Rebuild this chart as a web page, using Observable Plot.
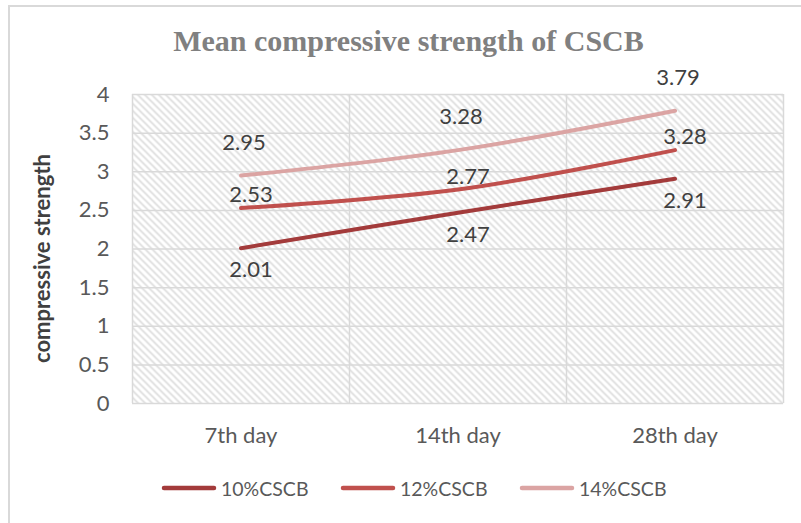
<!DOCTYPE html>
<html>
<head>
<meta charset="utf-8">
<script src="https://cdn.jsdelivr.net/npm/d3@7"></script>
<script src="https://cdn.jsdelivr.net/npm/@observablehq/plot@0.6"></script>
<style>
  html, body { margin: 0; padding: 0; background: #fff; }
  #wrap { position: relative; width: 801px; height: 523px; overflow: hidden; font-family: Lato, "Liberation Sans", sans-serif; }
  #border { position: absolute; left: 8px; top: 5px; width: 820px; height: 540px; border: 2px solid #d9d9d9; box-sizing: border-box; }
  #title { position: relative; height: 62px; box-sizing: border-box; padding-top: 26px; padding-left: 16px; text-align: center;
           font-family: "Liberation Serif", serif; font-weight: bold; font-size: 30px; line-height: 30px; color: #808080; }
  #chart { position: relative; height: 400px; }
  #legend { position: relative; height: 52px; display: flex; align-items: center; padding-left: 160px; }
  .item { display: flex; align-items: center; width: 179px; font-size: 19.5px; color: #595959; }
  .item svg { margin-right: 3px; flex: none; }
</style>
</head>
<body>
<div id="wrap">
  <div id="border"></div>
  <div id="title">Mean compressive strength of CSCB</div>
  <div id="chart"></div>
  <div id="legend"></div>
</div>
<script>
// ---- data ----
const days = ["7th day", "14th day", "28th day"];
const series = ["10%CSCB", "12%CSCB", "14%CSCB"];
const cscb10 = [2.01, 2.47, 2.91];
const cscb12 = [2.53, 2.77, 3.28];
const cscb14 = [2.95, 3.28, 3.79];
const yTicks = [0, 0.5, 1, 1.5, 2, 2.5, 3, 3.5, 4];
const yTitle = "compressive strength";

// ---- styles ----
const colors = ["#a33b3b", "#c0504d", "#dba4a3"];
const labelDy = [22, -13, -33];
const labelDx = [10, 10, 3];

const values = [cscb10, cscb12, cscb14];
const rows = series.flatMap((s, i) => values[i].map((v, j) => ({series: s, day: days[j], pos: j + 0.5, value: v})));
const bounds = d3.range(days.length + 1);
const xTicks = days.map((d, j) => j + 0.5);

const plot = Plot.plot({
  width: 801,
  height: 400,
  marginLeft: 132,
  marginRight: 18,
  marginTop: 32,
  marginBottom: 59,
  style: {fontFamily: "Lato, 'Liberation Sans', sans-serif", background: "transparent"},
  x: {type: "linear", domain: [0, days.length], label: null},
  y: {domain: [0, 4], label: null},
  color: {domain: series, range: colors},
  marks: [
    Plot.frame({fill: "url(#hatch)", stroke: null}),
    Plot.ruleY(yTicks, {stroke: "#d9d9d9", strokeWidth: 1.5}),
    Plot.ruleX(bounds, {stroke: "#d9d9d9", strokeWidth: 1.5}),
    Plot.line(rows, {x: "pos", y: "value", z: "series", stroke: "series", strokeWidth: 4, curve: "catmull-rom", strokeLinecap: "round"}),
    ...series.map((s, i) => Plot.text(rows.filter(r => r.series === s), {x: "pos", y: "value", text: d => d.value.toFixed(2), dy: labelDy[i], dx: labelDx[i], fontSize: 22, fill: "#404040"})),
    Plot.axisX({ticks: xTicks, tickFormat: v => days[Math.floor(v)], tickSize: 0, tickPadding: 24, fontSize: 22, color: "#595959", label: null}),
    Plot.axisY({ticks: yTicks, tickFormat: d => String(d), tickSize: 0, tickPadding: 23, fontSize: 22, color: "#595959", label: null}),
    Plot.text([yTitle], {frameAnchor: "left", textAnchor: "middle", dx: -90, dy: 9.5, rotate: -90, fontSize: 22, fontWeight: "bold", fill: "#404040"})
  ]
});

const defs = d3.select(plot).insert("defs", ":first-child");
const pat = defs.append("pattern").attr("id", "hatch").attr("patternUnits", "userSpaceOnUse").attr("width", 7).attr("height", 7);
pat.append("rect").attr("width", 7).attr("height", 7).attr("fill", "#fff");
pat.append("path").attr("d", "M-1,6 l2,2 M0,0 l7,7 M6,-1 l2,2").attr("stroke", "#dcdcdc").attr("stroke-width", 1.6);

document.getElementById("chart").appendChild(plot);

// ---- legend ----
const legend = d3.select("#legend");
series.forEach((s, i) => {
  const item = legend.append("div").attr("class", "item");
  const sv = item.append("svg").attr("width", 58).attr("height", 10);
  sv.append("line").attr("x1", 4).attr("x2", 54).attr("y1", 5).attr("y2", 5).attr("stroke", colors[i]).attr("stroke-width", 4.5).attr("stroke-linecap", "round");
  item.append("span").text(s);
});
</script>
</body>
</html>
